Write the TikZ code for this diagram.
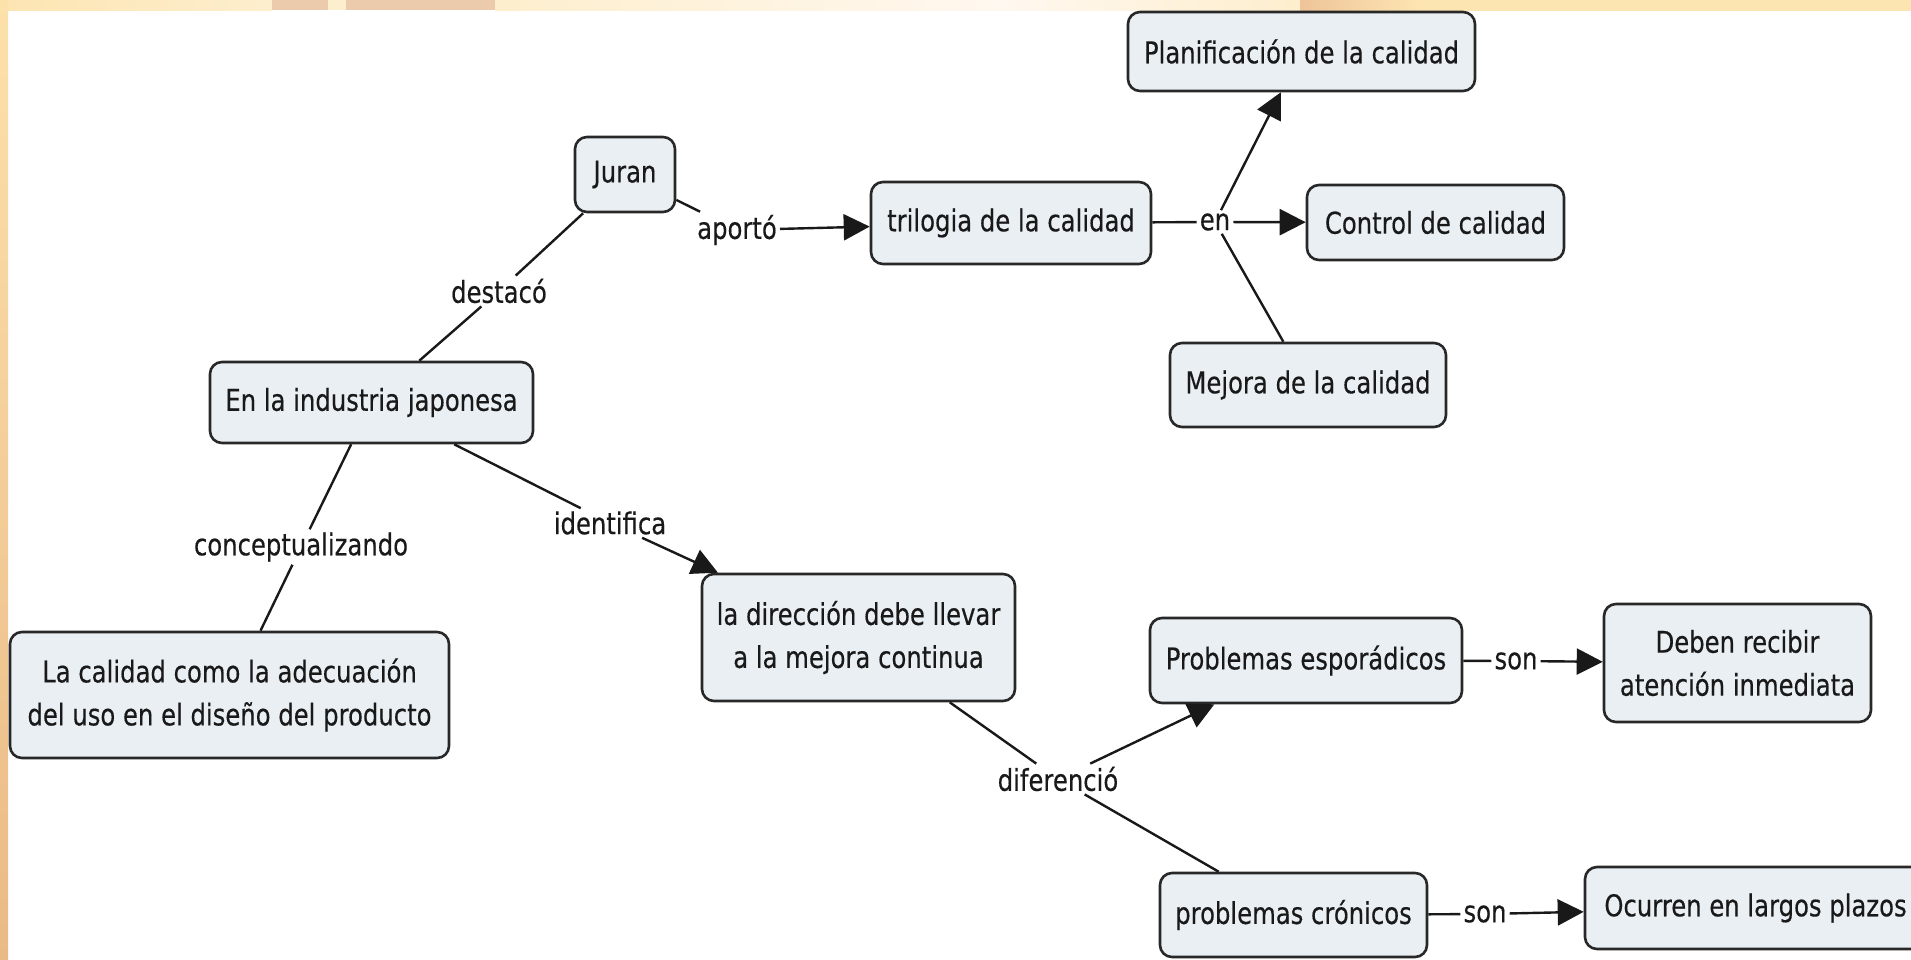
\documentclass[tikz,border=0pt]{standalone}
\usepackage{fontspec}
\setmainfont{DejaVu Sans}[FakeStretch=0.81,FakeBold=0.35]
\usetikzlibrary{arrows.meta}
\definecolor{boxfill}{RGB}{233,239,243}
\definecolor{boxline}{RGB}{40,40,40}
\definecolor{txt}{RGB}{25,25,25}
\definecolor{creamA}{RGB}{253,229,178}
\definecolor{creamB}{RGB}{253,238,205}
\definecolor{tanA}{RGB}{236,203,172}
\definecolor{paleA}{RGB}{255,248,240}
\definecolor{orangeA}{RGB}{238,196,152}
\definecolor{stripTop}{RGB}{253,225,170}
\definecolor{stripBot}{RGB}{234,186,134}
\begin{document}
\begin{tikzpicture}[x=1pt,y=-1pt,
  concept/.style={draw=boxline, line width=2.6pt, rounded corners=12pt, fill=boxfill, text=txt, align=center, inner sep=0pt},
  linklabel/.style={text=txt, inner sep=3pt},
  conn/.style={line width=2.4pt, draw=txt},
  arr/.style={conn, -{Triangle[length=26pt,width=26pt]}},
  font=\fontsize{30}{43}\selectfont]
\useasboundingbox (0,0) rectangle (1911,959);
\clip (0,0) rectangle (1911,959);
\fill[white] (0,0) rectangle (1911,959);
% decorative frame
\shade[left color=creamA, right color=creamB] (0,0) rectangle (272,10);
\fill[tanA] (272,0) rectangle (328,10);
\fill[creamB] (328,0) rectangle (346,10);
\fill[tanA] (346,0) rectangle (495,10);
\shade[left color=creamB, right color=paleA] (495,0) rectangle (1000,10);
\shade[left color=paleA, right color=creamB] (1000,0) rectangle (1300,10);
\shade[left color=orangeA, right color=creamA] (1300,0) rectangle (1420,10);
\shade[left color=creamA, right color=creamA] (1420,0) rectangle (1911,10);
\shade[top color=stripTop, bottom color=stripBot] (0,0) rectangle (8,959);

% concepts
\node[concept, minimum width=347pt, minimum height=79pt] (plan) at (1301.5,51.5) {Planificación de la calidad};
\node[concept, minimum width=100pt, minimum height=75pt] (juran) at (625,174.5) {Juran};
\node[concept, minimum width=280pt, minimum height=82pt] (tril) at (1011,223) {trilogia de la calidad};
\node[concept, minimum width=257pt, minimum height=75pt] (ctrl) at (1435.5,222.5) {Control de calidad};
\node[concept, minimum width=276pt, minimum height=84pt] (mejora) at (1308,385) {Mejora de la calidad};
\node[concept, minimum width=323pt, minimum height=81pt] (ind) at (371.5,402.5) {En la industria japonesa};
\node[concept, minimum width=313pt, minimum height=127pt] (dir) at (858.5,637.5) {la dirección debe llevar\\a la mejora continua};
\node[concept, minimum width=439pt, minimum height=126pt] (cal) at (229.5,695) {La calidad como la adecuación\\del uso en el diseño del producto};
\node[concept, minimum width=312pt, minimum height=85pt] (esp) at (1306,660.5) {Problemas esporádicos};
\node[concept, minimum width=267pt, minimum height=118pt] (deben) at (1737.5,663) {Deben recibir\\atención inmediata};
\node[concept, minimum width=267pt, minimum height=84pt] (cron) at (1293.5,915) {problemas crónicos};
\node[concept, minimum width=341pt, minimum height=82pt] (ocu) at (1755.5,908) {Ocurren en largos plazos};

% linking phrases
\node[linklabel] (destaco) at (499,291) {destacó};
\node[linklabel] (aporto) at (737,230) {aportó};
\node[linklabel] (en) at (1215,222) {en};
\node[linklabel] (identifica) at (610,523) {identifica};
\node[linklabel] (concept) at (301,547) {conceptualizando};
\node[linklabel] (dif) at (1058,779) {diferenció};
\node[linklabel] (son1) at (1516,661) {son};
\node[linklabel] (son2) at (1485,914) {son};

% connectors
\draw[conn] (ind) -- (destaco);
\draw[conn] (destaco) -- (juran);
\draw[conn] (juran) -- (aporto);
\draw[arr] (aporto) -- (tril);
\draw[conn] (tril) -- (en);
\draw[arr] (en) -- (ctrl);
\draw[arr] (en) -- (plan);
\draw[conn] (mejora) -- (en);
\draw[conn] (ind) -- (identifica);
\draw[arr] (identifica) -- (dir);
\draw[conn] (ind) -- (concept);
\draw[conn] (concept) -- (cal);
\draw[conn] (dir) -- (dif);
\draw[arr] (dif) -- (esp);
\draw[conn] (dif) -- (cron);
\draw[conn] (esp) -- (son1);
\draw[arr] (son1) -- (deben);
\draw[conn] (cron) -- (son2);
\draw[arr] (son2) -- (ocu);
\end{tikzpicture}
\end{document}
